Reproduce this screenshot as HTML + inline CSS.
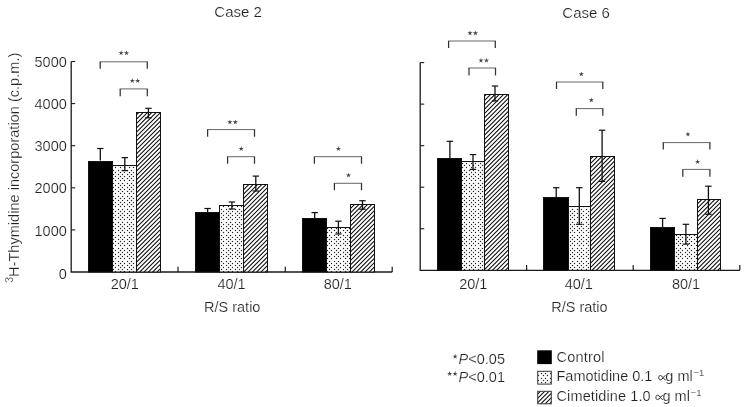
<!DOCTYPE html>
<html><head><meta charset="utf-8"><title>Chart</title>
<style>html,body{margin:0;padding:0;background:#fff;}svg{display:block;filter:grayscale(1);}text{font-family:"Liberation Sans",sans-serif;fill:#222222;stroke:#fff;stroke-width:0.2px;}</style>
</head><body>
<svg width="744" height="407" viewBox="0 0 744 407">
<defs>
<pattern id="dots" patternUnits="userSpaceOnUse" width="9" height="13"><rect width="9" height="13" fill="#fff"/><g shape-rendering="crispEdges"><rect x="1" y="0" width="1" height="1" fill="#e6e6e6"/><rect x="5" y="0" width="1" height="1" fill="#e6e6e6"/><rect x="0" y="1" width="1" height="1" fill="#e6e6e6"/><rect x="1" y="1" width="1" height="1" fill="#222222"/><rect x="2" y="1" width="1" height="1" fill="#e6e6e6"/><rect x="4" y="1" width="1" height="1" fill="#e6e6e6"/><rect x="5" y="1" width="1" height="1" fill="#222222"/><rect x="6" y="1" width="1" height="1" fill="#e6e6e6"/><rect x="1" y="2" width="1" height="1" fill="#e6e6e6"/><rect x="3" y="2" width="1" height="1" fill="#e6e6e6"/><rect x="5" y="2" width="1" height="1" fill="#e6e6e6"/><rect x="7" y="2" width="1" height="1" fill="#e6e6e6"/><rect x="2" y="3" width="1" height="1" fill="#e6e6e6"/><rect x="3" y="3" width="1" height="1" fill="#222222"/><rect x="4" y="3" width="1" height="1" fill="#e6e6e6"/><rect x="6" y="3" width="1" height="1" fill="#e6e6e6"/><rect x="7" y="3" width="1" height="1" fill="#222222"/><rect x="8" y="3" width="1" height="1" fill="#e6e6e6"/><rect x="1" y="4" width="1" height="1" fill="#e6e6e6"/><rect x="3" y="4" width="1" height="1" fill="#e6e6e6"/><rect x="5" y="4" width="1" height="1" fill="#e6e6e6"/><rect x="7" y="4" width="1" height="1" fill="#e6e6e6"/><rect x="0" y="5" width="1" height="1" fill="#e6e6e6"/><rect x="1" y="5" width="1" height="1" fill="#222222"/><rect x="2" y="5" width="1" height="1" fill="#e6e6e6"/><rect x="4" y="5" width="1" height="1" fill="#e6e6e6"/><rect x="5" y="5" width="1" height="1" fill="#222222"/><rect x="6" y="5" width="1" height="1" fill="#e6e6e6"/><rect x="1" y="6" width="1" height="1" fill="#e6e6e6"/><rect x="3" y="6" width="1" height="1" fill="#e6e6e6"/><rect x="5" y="6" width="1" height="1" fill="#e6e6e6"/><rect x="7" y="6" width="1" height="1" fill="#e6e6e6"/><rect x="2" y="7" width="1" height="1" fill="#e6e6e6"/><rect x="3" y="7" width="1" height="1" fill="#222222"/><rect x="4" y="7" width="1" height="1" fill="#e6e6e6"/><rect x="6" y="7" width="1" height="1" fill="#e6e6e6"/><rect x="7" y="7" width="1" height="1" fill="#222222"/><rect x="8" y="7" width="1" height="1" fill="#e6e6e6"/><rect x="1" y="8" width="1" height="1" fill="#e6e6e6"/><rect x="3" y="8" width="1" height="1" fill="#e6e6e6"/><rect x="5" y="8" width="1" height="1" fill="#e6e6e6"/><rect x="7" y="8" width="1" height="1" fill="#e6e6e6"/><rect x="0" y="9" width="1" height="1" fill="#e6e6e6"/><rect x="1" y="9" width="1" height="1" fill="#222222"/><rect x="2" y="9" width="1" height="1" fill="#e6e6e6"/><rect x="4" y="9" width="1" height="1" fill="#e6e6e6"/><rect x="5" y="9" width="1" height="1" fill="#222222"/><rect x="6" y="9" width="1" height="1" fill="#e6e6e6"/><rect x="1" y="10" width="1" height="1" fill="#e6e6e6"/><rect x="3" y="10" width="1" height="1" fill="#e6e6e6"/><rect x="5" y="10" width="1" height="1" fill="#e6e6e6"/><rect x="7" y="10" width="1" height="1" fill="#e6e6e6"/><rect x="2" y="11" width="1" height="1" fill="#e6e6e6"/><rect x="3" y="11" width="1" height="1" fill="#222222"/><rect x="4" y="11" width="1" height="1" fill="#e6e6e6"/><rect x="6" y="11" width="1" height="1" fill="#e6e6e6"/><rect x="7" y="11" width="1" height="1" fill="#222222"/><rect x="8" y="11" width="1" height="1" fill="#e6e6e6"/><rect x="3" y="12" width="1" height="1" fill="#e6e6e6"/><rect x="7" y="12" width="1" height="1" fill="#e6e6e6"/></g></pattern>
<pattern id="hatch" patternUnits="userSpaceOnUse" width="13" height="13"><rect width="13" height="13" fill="#fff"/><g shape-rendering="crispEdges"><rect x="0" y="0" width="1" height="1" fill="#bfbfbf"/><rect x="2" y="0" width="1" height="1" fill="#ebebeb"/><rect x="3" y="0" width="1" height="1" fill="#323232"/><rect x="4" y="0" width="1" height="1" fill="#6f6f6f"/><rect x="7" y="0" width="1" height="1" fill="#6f6f6f"/><rect x="8" y="0" width="1" height="1" fill="#323232"/><rect x="9" y="0" width="1" height="1" fill="#ebebeb"/><rect x="11" y="0" width="1" height="1" fill="#bfbfbf"/><rect x="12" y="0" width="1" height="1" fill="#1b1b1b"/><rect x="1" y="1" width="1" height="1" fill="#ebebeb"/><rect x="2" y="1" width="1" height="1" fill="#323232"/><rect x="3" y="1" width="1" height="1" fill="#6f6f6f"/><rect x="6" y="1" width="1" height="1" fill="#6f6f6f"/><rect x="7" y="1" width="1" height="1" fill="#323232"/><rect x="8" y="1" width="1" height="1" fill="#ebebeb"/><rect x="10" y="1" width="1" height="1" fill="#bfbfbf"/><rect x="11" y="1" width="1" height="1" fill="#1b1b1b"/><rect x="12" y="1" width="1" height="1" fill="#bfbfbf"/><rect x="0" y="2" width="1" height="1" fill="#ebebeb"/><rect x="1" y="2" width="1" height="1" fill="#323232"/><rect x="2" y="2" width="1" height="1" fill="#6f6f6f"/><rect x="5" y="2" width="1" height="1" fill="#6f6f6f"/><rect x="6" y="2" width="1" height="1" fill="#323232"/><rect x="7" y="2" width="1" height="1" fill="#ebebeb"/><rect x="9" y="2" width="1" height="1" fill="#bfbfbf"/><rect x="10" y="2" width="1" height="1" fill="#1b1b1b"/><rect x="11" y="2" width="1" height="1" fill="#bfbfbf"/><rect x="0" y="3" width="1" height="1" fill="#323232"/><rect x="1" y="3" width="1" height="1" fill="#6f6f6f"/><rect x="4" y="3" width="1" height="1" fill="#6f6f6f"/><rect x="5" y="3" width="1" height="1" fill="#323232"/><rect x="6" y="3" width="1" height="1" fill="#ebebeb"/><rect x="8" y="3" width="1" height="1" fill="#bfbfbf"/><rect x="9" y="3" width="1" height="1" fill="#1b1b1b"/><rect x="10" y="3" width="1" height="1" fill="#bfbfbf"/><rect x="12" y="3" width="1" height="1" fill="#ebebeb"/><rect x="0" y="4" width="1" height="1" fill="#6f6f6f"/><rect x="3" y="4" width="1" height="1" fill="#6f6f6f"/><rect x="4" y="4" width="1" height="1" fill="#323232"/><rect x="5" y="4" width="1" height="1" fill="#ebebeb"/><rect x="7" y="4" width="1" height="1" fill="#bfbfbf"/><rect x="8" y="4" width="1" height="1" fill="#1b1b1b"/><rect x="9" y="4" width="1" height="1" fill="#bfbfbf"/><rect x="11" y="4" width="1" height="1" fill="#ebebeb"/><rect x="12" y="4" width="1" height="1" fill="#323232"/><rect x="2" y="5" width="1" height="1" fill="#6f6f6f"/><rect x="3" y="5" width="1" height="1" fill="#323232"/><rect x="4" y="5" width="1" height="1" fill="#ebebeb"/><rect x="6" y="5" width="1" height="1" fill="#bfbfbf"/><rect x="7" y="5" width="1" height="1" fill="#1b1b1b"/><rect x="8" y="5" width="1" height="1" fill="#bfbfbf"/><rect x="10" y="5" width="1" height="1" fill="#ebebeb"/><rect x="11" y="5" width="1" height="1" fill="#323232"/><rect x="12" y="5" width="1" height="1" fill="#6f6f6f"/><rect x="1" y="6" width="1" height="1" fill="#6f6f6f"/><rect x="2" y="6" width="1" height="1" fill="#323232"/><rect x="3" y="6" width="1" height="1" fill="#ebebeb"/><rect x="5" y="6" width="1" height="1" fill="#bfbfbf"/><rect x="6" y="6" width="1" height="1" fill="#1b1b1b"/><rect x="7" y="6" width="1" height="1" fill="#bfbfbf"/><rect x="9" y="6" width="1" height="1" fill="#ebebeb"/><rect x="10" y="6" width="1" height="1" fill="#323232"/><rect x="11" y="6" width="1" height="1" fill="#6f6f6f"/><rect x="0" y="7" width="1" height="1" fill="#6f6f6f"/><rect x="1" y="7" width="1" height="1" fill="#323232"/><rect x="2" y="7" width="1" height="1" fill="#ebebeb"/><rect x="4" y="7" width="1" height="1" fill="#bfbfbf"/><rect x="5" y="7" width="1" height="1" fill="#1b1b1b"/><rect x="6" y="7" width="1" height="1" fill="#bfbfbf"/><rect x="8" y="7" width="1" height="1" fill="#ebebeb"/><rect x="9" y="7" width="1" height="1" fill="#323232"/><rect x="10" y="7" width="1" height="1" fill="#6f6f6f"/><rect x="0" y="8" width="1" height="1" fill="#323232"/><rect x="1" y="8" width="1" height="1" fill="#ebebeb"/><rect x="3" y="8" width="1" height="1" fill="#bfbfbf"/><rect x="4" y="8" width="1" height="1" fill="#1b1b1b"/><rect x="5" y="8" width="1" height="1" fill="#bfbfbf"/><rect x="7" y="8" width="1" height="1" fill="#ebebeb"/><rect x="8" y="8" width="1" height="1" fill="#323232"/><rect x="9" y="8" width="1" height="1" fill="#6f6f6f"/><rect x="12" y="8" width="1" height="1" fill="#6f6f6f"/><rect x="0" y="9" width="1" height="1" fill="#ebebeb"/><rect x="2" y="9" width="1" height="1" fill="#bfbfbf"/><rect x="3" y="9" width="1" height="1" fill="#1b1b1b"/><rect x="4" y="9" width="1" height="1" fill="#bfbfbf"/><rect x="6" y="9" width="1" height="1" fill="#ebebeb"/><rect x="7" y="9" width="1" height="1" fill="#323232"/><rect x="8" y="9" width="1" height="1" fill="#6f6f6f"/><rect x="11" y="9" width="1" height="1" fill="#6f6f6f"/><rect x="12" y="9" width="1" height="1" fill="#323232"/><rect x="1" y="10" width="1" height="1" fill="#bfbfbf"/><rect x="2" y="10" width="1" height="1" fill="#1b1b1b"/><rect x="3" y="10" width="1" height="1" fill="#bfbfbf"/><rect x="5" y="10" width="1" height="1" fill="#ebebeb"/><rect x="6" y="10" width="1" height="1" fill="#323232"/><rect x="7" y="10" width="1" height="1" fill="#6f6f6f"/><rect x="10" y="10" width="1" height="1" fill="#6f6f6f"/><rect x="11" y="10" width="1" height="1" fill="#323232"/><rect x="12" y="10" width="1" height="1" fill="#ebebeb"/><rect x="0" y="11" width="1" height="1" fill="#bfbfbf"/><rect x="1" y="11" width="1" height="1" fill="#1b1b1b"/><rect x="2" y="11" width="1" height="1" fill="#bfbfbf"/><rect x="4" y="11" width="1" height="1" fill="#ebebeb"/><rect x="5" y="11" width="1" height="1" fill="#323232"/><rect x="6" y="11" width="1" height="1" fill="#6f6f6f"/><rect x="9" y="11" width="1" height="1" fill="#6f6f6f"/><rect x="10" y="11" width="1" height="1" fill="#323232"/><rect x="11" y="11" width="1" height="1" fill="#ebebeb"/><rect x="0" y="12" width="1" height="1" fill="#1b1b1b"/><rect x="1" y="12" width="1" height="1" fill="#bfbfbf"/><rect x="3" y="12" width="1" height="1" fill="#ebebeb"/><rect x="4" y="12" width="1" height="1" fill="#323232"/><rect x="5" y="12" width="1" height="1" fill="#6f6f6f"/><rect x="8" y="12" width="1" height="1" fill="#6f6f6f"/><rect x="9" y="12" width="1" height="1" fill="#323232"/><rect x="10" y="12" width="1" height="1" fill="#ebebeb"/><rect x="12" y="12" width="1" height="1" fill="#bfbfbf"/></g></pattern>
</defs>
<rect width="744" height="407" fill="#fff"/>
<path d="M71.20 61.50V272.00H392.20" stroke="#1a1a1a" stroke-width="1.3" fill="none"/>
<path d="M71.20 229.90h4" stroke="#1a1a1a" stroke-width="1.1"/>
<path d="M71.20 187.80h4" stroke="#1a1a1a" stroke-width="1.1"/>
<path d="M71.20 145.70h4" stroke="#1a1a1a" stroke-width="1.1"/>
<path d="M71.20 103.60h4" stroke="#1a1a1a" stroke-width="1.1"/>
<path d="M71.20 61.50h4" stroke="#1a1a1a" stroke-width="1.1"/>
<path d="M178.00 272.00v-5.2" stroke="#1a1a1a" stroke-width="1.2"/>
<path d="M285.30 272.00v-5.2" stroke="#1a1a1a" stroke-width="1.2"/>
<path d="M392.20 272.00v-5.2" stroke="#1a1a1a" stroke-width="1.2"/>
<rect x="88.50" y="161.50" width="24.00" height="110.50" fill="#000" stroke="#111" stroke-width="1"/>
<rect x="112.50" y="165.50" width="24.00" height="106.50" fill="url(#dots)" stroke="#111" stroke-width="1"/>
<rect x="136.50" y="112.50" width="24.00" height="159.50" fill="url(#hatch)" stroke="#111" stroke-width="1"/>
<rect x="195.50" y="212.50" width="24.00" height="59.50" fill="#000" stroke="#111" stroke-width="1"/>
<rect x="219.50" y="205.50" width="24.00" height="66.50" fill="url(#dots)" stroke="#111" stroke-width="1"/>
<rect x="243.50" y="184.50" width="24.00" height="87.50" fill="url(#hatch)" stroke="#111" stroke-width="1"/>
<rect x="302.50" y="218.50" width="24.00" height="53.50" fill="#000" stroke="#111" stroke-width="1"/>
<rect x="326.50" y="227.50" width="24.00" height="44.50" fill="url(#dots)" stroke="#111" stroke-width="1"/>
<rect x="350.50" y="204.50" width="24.00" height="67.50" fill="url(#hatch)" stroke="#111" stroke-width="1"/>
<path d="M100.30 148.50V160.60" stroke="#111" stroke-width="1.3" fill="none"/>
<path d="M97.10 148.50H103.50" stroke="#111" stroke-width="1.2" fill="none"/>
<path d="M124.80 157.60V170.60" stroke="#111" stroke-width="1.3" fill="none"/>
<path d="M121.60 157.60H128.00" stroke="#111" stroke-width="1.2" fill="none"/>
<path d="M121.60 170.60H128.00" stroke="#111" stroke-width="1.2" fill="none"/>
<path d="M148.40 108.30V117.80" stroke="#111" stroke-width="1.3" fill="none"/>
<path d="M145.20 108.30H151.60" stroke="#111" stroke-width="1.2" fill="none"/>
<path d="M145.20 117.80H151.60" stroke="#111" stroke-width="1.2" fill="none"/>
<path d="M207.60 208.50V212.00" stroke="#111" stroke-width="1.3" fill="none"/>
<path d="M204.40 208.50H210.80" stroke="#111" stroke-width="1.2" fill="none"/>
<path d="M231.90 202.00V209.00" stroke="#111" stroke-width="1.3" fill="none"/>
<path d="M228.70 202.00H235.10" stroke="#111" stroke-width="1.2" fill="none"/>
<path d="M228.70 209.00H235.10" stroke="#111" stroke-width="1.2" fill="none"/>
<path d="M255.80 176.10V191.00" stroke="#111" stroke-width="1.3" fill="none"/>
<path d="M252.60 176.10H259.00" stroke="#111" stroke-width="1.2" fill="none"/>
<path d="M252.60 191.00H259.00" stroke="#111" stroke-width="1.2" fill="none"/>
<path d="M314.70 212.60V218.00" stroke="#111" stroke-width="1.3" fill="none"/>
<path d="M311.50 212.60H317.90" stroke="#111" stroke-width="1.2" fill="none"/>
<path d="M338.40 221.20V234.00" stroke="#111" stroke-width="1.3" fill="none"/>
<path d="M335.20 221.20H341.60" stroke="#111" stroke-width="1.2" fill="none"/>
<path d="M335.20 234.00H341.60" stroke="#111" stroke-width="1.2" fill="none"/>
<path d="M362.50 200.70V209.20" stroke="#111" stroke-width="1.3" fill="none"/>
<path d="M359.30 200.70H365.70" stroke="#111" stroke-width="1.2" fill="none"/>
<path d="M359.30 209.20H365.70" stroke="#111" stroke-width="1.2" fill="none"/>
<path d="M99.60 61.80H147.90" stroke="#555" stroke-width="0.9" fill="none"/>
<path d="M100.20 61.80V68.80M147.30 61.80V68.80" stroke="#333" stroke-width="1.25" fill="none"/>
<polygon transform="translate(121.10 52.80)" points="0.00,-2.60 0.59,-0.66 2.62,-0.70 0.95,0.46 1.62,2.37 0.00,1.15 -1.62,2.37 -0.95,0.46 -2.62,-0.70 -0.59,-0.66" fill="#444"/>
<polygon transform="translate(126.50 52.80)" points="0.00,-2.60 0.59,-0.66 2.62,-0.70 0.95,0.46 1.62,2.37 0.00,1.15 -1.62,2.37 -0.95,0.46 -2.62,-0.70 -0.59,-0.66" fill="#444"/>
<path d="M119.60 88.90H147.90" stroke="#555" stroke-width="0.9" fill="none"/>
<path d="M120.20 88.90V96.20M147.30 88.90V96.20" stroke="#333" stroke-width="1.25" fill="none"/>
<polygon transform="translate(132.30 80.60)" points="0.00,-2.60 0.59,-0.66 2.62,-0.70 0.95,0.46 1.62,2.37 0.00,1.15 -1.62,2.37 -0.95,0.46 -2.62,-0.70 -0.59,-0.66" fill="#444"/>
<polygon transform="translate(137.70 80.60)" points="0.00,-2.60 0.59,-0.66 2.62,-0.70 0.95,0.46 1.62,2.37 0.00,1.15 -1.62,2.37 -0.95,0.46 -2.62,-0.70 -0.59,-0.66" fill="#444"/>
<path d="M207.00 129.60H255.10" stroke="#555" stroke-width="0.9" fill="none"/>
<path d="M207.60 129.60V136.80M254.50 129.60V136.80" stroke="#333" stroke-width="1.25" fill="none"/>
<polygon transform="translate(229.90 122.00)" points="0.00,-2.60 0.59,-0.66 2.62,-0.70 0.95,0.46 1.62,2.37 0.00,1.15 -1.62,2.37 -0.95,0.46 -2.62,-0.70 -0.59,-0.66" fill="#444"/>
<polygon transform="translate(235.30 122.00)" points="0.00,-2.60 0.59,-0.66 2.62,-0.70 0.95,0.46 1.62,2.37 0.00,1.15 -1.62,2.37 -0.95,0.46 -2.62,-0.70 -0.59,-0.66" fill="#444"/>
<path d="M227.00 156.70H255.10" stroke="#555" stroke-width="0.9" fill="none"/>
<path d="M227.60 156.70V163.70M254.50 156.70V163.70" stroke="#333" stroke-width="1.25" fill="none"/>
<polygon transform="translate(241.20 148.60)" points="0.00,-2.60 0.59,-0.66 2.62,-0.70 0.95,0.46 1.62,2.37 0.00,1.15 -1.62,2.37 -0.95,0.46 -2.62,-0.70 -0.59,-0.66" fill="#444"/>
<path d="M313.80 156.70H362.10" stroke="#555" stroke-width="0.9" fill="none"/>
<path d="M314.40 156.70V163.70M361.50 156.70V163.70" stroke="#333" stroke-width="1.25" fill="none"/>
<polygon transform="translate(338.40 148.60)" points="0.00,-2.60 0.59,-0.66 2.62,-0.70 0.95,0.46 1.62,2.37 0.00,1.15 -1.62,2.37 -0.95,0.46 -2.62,-0.70 -0.59,-0.66" fill="#444"/>
<path d="M333.80 183.30H362.10" stroke="#555" stroke-width="0.9" fill="none"/>
<path d="M334.40 183.30V190.20M361.50 183.30V190.20" stroke="#333" stroke-width="1.25" fill="none"/>
<polygon transform="translate(348.50 175.20)" points="0.00,-2.60 0.59,-0.66 2.62,-0.70 0.95,0.46 1.62,2.37 0.00,1.15 -1.62,2.37 -0.95,0.46 -2.62,-0.70 -0.59,-0.66" fill="#444"/>
<path d="M420.20 62.60V270.30H739.80" stroke="#1a1a1a" stroke-width="1.3" fill="none"/>
<path d="M420.20 228.76h4" stroke="#1a1a1a" stroke-width="1.1"/>
<path d="M420.20 187.22h4" stroke="#1a1a1a" stroke-width="1.1"/>
<path d="M420.20 145.68h4" stroke="#1a1a1a" stroke-width="1.1"/>
<path d="M420.20 104.14h4" stroke="#1a1a1a" stroke-width="1.1"/>
<path d="M420.20 62.60h4" stroke="#1a1a1a" stroke-width="1.1"/>
<path d="M526.60 270.30v-5.2" stroke="#1a1a1a" stroke-width="1.2"/>
<path d="M633.20 270.30v-5.2" stroke="#1a1a1a" stroke-width="1.2"/>
<path d="M739.80 270.30v-5.2" stroke="#1a1a1a" stroke-width="1.2"/>
<rect x="437.50" y="158.50" width="24.00" height="111.80" fill="#000" stroke="#111" stroke-width="1"/>
<rect x="461.50" y="161.50" width="23.00" height="108.80" fill="url(#dots)" stroke="#111" stroke-width="1"/>
<rect x="484.50" y="94.50" width="24.00" height="175.80" fill="url(#hatch)" stroke="#111" stroke-width="1"/>
<rect x="543.50" y="197.50" width="25.00" height="72.80" fill="#000" stroke="#111" stroke-width="1"/>
<rect x="568.50" y="206.50" width="22.00" height="63.80" fill="url(#dots)" stroke="#111" stroke-width="1"/>
<rect x="590.50" y="156.50" width="24.00" height="113.80" fill="url(#hatch)" stroke="#111" stroke-width="1"/>
<rect x="650.50" y="227.50" width="24.00" height="42.80" fill="#000" stroke="#111" stroke-width="1"/>
<rect x="674.50" y="234.50" width="23.00" height="35.80" fill="url(#dots)" stroke="#111" stroke-width="1"/>
<rect x="697.50" y="199.50" width="23.00" height="70.80" fill="url(#hatch)" stroke="#111" stroke-width="1"/>
<path d="M449.90 141.30V158.10" stroke="#111" stroke-width="1.3" fill="none"/>
<path d="M446.70 141.30H453.10" stroke="#111" stroke-width="1.2" fill="none"/>
<path d="M473.00 154.60V169.40" stroke="#111" stroke-width="1.3" fill="none"/>
<path d="M469.80 154.60H476.20" stroke="#111" stroke-width="1.2" fill="none"/>
<path d="M469.80 169.40H476.20" stroke="#111" stroke-width="1.2" fill="none"/>
<path d="M495.00 86.00V101.00" stroke="#111" stroke-width="1.3" fill="none"/>
<path d="M491.80 86.00H498.20" stroke="#111" stroke-width="1.2" fill="none"/>
<path d="M491.80 101.00H498.20" stroke="#111" stroke-width="1.2" fill="none"/>
<path d="M556.20 187.70V197.00" stroke="#111" stroke-width="1.3" fill="none"/>
<path d="M553.00 187.70H559.40" stroke="#111" stroke-width="1.2" fill="none"/>
<path d="M579.30 187.70V224.30" stroke="#111" stroke-width="1.3" fill="none"/>
<path d="M576.10 187.70H582.50" stroke="#111" stroke-width="1.2" fill="none"/>
<path d="M576.10 224.30H582.50" stroke="#111" stroke-width="1.2" fill="none"/>
<path d="M602.10 130.20V181.40" stroke="#111" stroke-width="1.3" fill="none"/>
<path d="M598.90 130.20H605.30" stroke="#111" stroke-width="1.2" fill="none"/>
<path d="M598.90 181.40H605.30" stroke="#111" stroke-width="1.2" fill="none"/>
<path d="M662.60 218.40V227.30" stroke="#111" stroke-width="1.3" fill="none"/>
<path d="M659.40 218.40H665.80" stroke="#111" stroke-width="1.2" fill="none"/>
<path d="M685.90 224.30V244.10" stroke="#111" stroke-width="1.3" fill="none"/>
<path d="M682.70 224.30H689.10" stroke="#111" stroke-width="1.2" fill="none"/>
<path d="M682.70 244.10H689.10" stroke="#111" stroke-width="1.2" fill="none"/>
<path d="M708.40 186.20V214.30" stroke="#111" stroke-width="1.3" fill="none"/>
<path d="M705.20 186.20H711.60" stroke="#111" stroke-width="1.2" fill="none"/>
<path d="M705.20 214.30H711.60" stroke="#111" stroke-width="1.2" fill="none"/>
<path d="M448.00 41.00H495.90" stroke="#555" stroke-width="0.9" fill="none"/>
<path d="M448.60 41.00V48.10M495.30 41.00V48.10" stroke="#333" stroke-width="1.25" fill="none"/>
<polygon transform="translate(470.00 33.00)" points="0.00,-2.60 0.59,-0.66 2.62,-0.70 0.95,0.46 1.62,2.37 0.00,1.15 -1.62,2.37 -0.95,0.46 -2.62,-0.70 -0.59,-0.66" fill="#444"/>
<polygon transform="translate(475.40 33.00)" points="0.00,-2.60 0.59,-0.66 2.62,-0.70 0.95,0.46 1.62,2.37 0.00,1.15 -1.62,2.37 -0.95,0.46 -2.62,-0.70 -0.59,-0.66" fill="#444"/>
<path d="M468.40 68.00H496.10" stroke="#555" stroke-width="0.9" fill="none"/>
<path d="M469.00 68.00V75.50M495.50 68.00V75.50" stroke="#333" stroke-width="1.25" fill="none"/>
<polygon transform="translate(481.00 60.30)" points="0.00,-2.60 0.59,-0.66 2.62,-0.70 0.95,0.46 1.62,2.37 0.00,1.15 -1.62,2.37 -0.95,0.46 -2.62,-0.70 -0.59,-0.66" fill="#444"/>
<polygon transform="translate(486.40 60.30)" points="0.00,-2.60 0.59,-0.66 2.62,-0.70 0.95,0.46 1.62,2.37 0.00,1.15 -1.62,2.37 -0.95,0.46 -2.62,-0.70 -0.59,-0.66" fill="#444"/>
<path d="M555.90 82.00H603.40" stroke="#555" stroke-width="0.9" fill="none"/>
<path d="M556.50 82.00V89.10M602.80 82.00V89.10" stroke="#333" stroke-width="1.25" fill="none"/>
<polygon transform="translate(581.30 74.00)" points="0.00,-2.60 0.59,-0.66 2.62,-0.70 0.95,0.46 1.62,2.37 0.00,1.15 -1.62,2.37 -0.95,0.46 -2.62,-0.70 -0.59,-0.66" fill="#444"/>
<path d="M575.70 108.60H603.40" stroke="#555" stroke-width="0.9" fill="none"/>
<path d="M576.30 108.60V115.70M602.80 108.60V115.70" stroke="#333" stroke-width="1.25" fill="none"/>
<polygon transform="translate(591.30 100.00)" points="0.00,-2.60 0.59,-0.66 2.62,-0.70 0.95,0.46 1.62,2.37 0.00,1.15 -1.62,2.37 -0.95,0.46 -2.62,-0.70 -0.59,-0.66" fill="#444"/>
<path d="M662.70 142.60H710.50" stroke="#555" stroke-width="0.9" fill="none"/>
<path d="M663.30 142.60V149.60M709.90 142.60V149.60" stroke="#333" stroke-width="1.25" fill="none"/>
<polygon transform="translate(687.90 134.10)" points="0.00,-2.60 0.59,-0.66 2.62,-0.70 0.95,0.46 1.62,2.37 0.00,1.15 -1.62,2.37 -0.95,0.46 -2.62,-0.70 -0.59,-0.66" fill="#444"/>
<path d="M682.20 169.40H710.50" stroke="#555" stroke-width="0.9" fill="none"/>
<path d="M682.80 169.40V176.70M709.90 169.40V176.70" stroke="#333" stroke-width="1.25" fill="none"/>
<polygon transform="translate(697.60 161.60)" points="0.00,-2.60 0.59,-0.66 2.62,-0.70 0.95,0.46 1.62,2.37 0.00,1.15 -1.62,2.37 -0.95,0.46 -2.62,-0.70 -0.59,-0.66" fill="#444"/>
<text x="214.3" y="17" font-size="15">Case 2</text>
<text x="562.3" y="17.5" font-size="15">Case 6</text>
<text x="66.8" y="278.60" font-size="14.5" text-anchor="end">0</text>
<text x="66.8" y="235.50" font-size="14.5" text-anchor="end">1000</text>
<text x="66.8" y="193.40" font-size="14.5" text-anchor="end">2000</text>
<text x="66.8" y="151.30" font-size="14.5" text-anchor="end">3000</text>
<text x="66.8" y="109.20" font-size="14.5" text-anchor="end">4000</text>
<text x="66.8" y="67.10" font-size="14.5" text-anchor="end">5000</text>
<text x="124.75" y="288.5" font-size="14.5" text-anchor="middle">20/1</text>
<text x="231.50" y="288.5" font-size="14.5" text-anchor="middle">40/1</text>
<text x="337.80" y="288.5" font-size="14.5" text-anchor="middle">80/1</text>
<text x="232.25" y="312" font-size="14.5" text-anchor="middle">R/S ratio</text>
<text x="473.25" y="288.5" font-size="14.5" text-anchor="middle">20/1</text>
<text x="578.75" y="288.5" font-size="14.5" text-anchor="middle">40/1</text>
<text x="686.00" y="288.5" font-size="14.5" text-anchor="middle">80/1</text>
<text x="579.4" y="312" font-size="14.5" text-anchor="middle">R/S ratio</text>
<text transform="translate(19.4,282.8) rotate(-90)" font-size="14.5" letter-spacing="0.03"><tspan font-size="10.5" dy="-6.6">3</tspan><tspan dy="6.6">H-Thymidine incorporation (c.p.m.)</tspan></text>
<polygon transform="translate(455.10 356.40)" points="0.00,-2.60 0.59,-0.66 2.62,-0.70 0.95,0.46 1.62,2.37 0.00,1.15 -1.62,2.37 -0.95,0.46 -2.62,-0.70 -0.59,-0.66" fill="#444"/>
<text x="458.6" y="363.6" font-size="14.5"><tspan font-style="italic">P</tspan>&lt;0.05</text>
<polygon transform="translate(449.70 373.60)" points="0.00,-2.60 0.59,-0.66 2.62,-0.70 0.95,0.46 1.62,2.37 0.00,1.15 -1.62,2.37 -0.95,0.46 -2.62,-0.70 -0.59,-0.66" fill="#444"/>
<polygon transform="translate(455.10 373.60)" points="0.00,-2.60 0.59,-0.66 2.62,-0.70 0.95,0.46 1.62,2.37 0.00,1.15 -1.62,2.37 -0.95,0.46 -2.62,-0.70 -0.59,-0.66" fill="#444"/>
<text x="458.6" y="381.5" font-size="14.5"><tspan font-style="italic">P</tspan>&lt;0.01</text>
<rect x="537.2" y="350.3" width="14.6" height="13.8" fill="#000"/>
<rect x="537.7" y="371.3" width="13.6" height="12.8" fill="url(#dots)" stroke="#3a3a3a" stroke-width="1"/>
<rect x="537.7" y="391.3" width="13.6" height="12.5" fill="url(#hatch)" stroke="#3a3a3a" stroke-width="1"/>
<text x="556.5" y="362" font-size="14.5" textLength="48">Control</text>
<text x="556.5" y="381.40" font-size="14.5">Famotidine 0.1</text>
<path d="M665.60 375.55 C663.73 375.55 662.72 379.85 660.42 379.85 C659.12 379.85 658.75 378.95 658.75 377.70 C658.75 376.45 659.12 375.55 660.42 375.55 C662.72 375.55 663.73 379.85 665.60 379.85" fill="none" stroke="#222222" stroke-width="0.95"/>
<text x="665.30" y="381.40" font-size="14.5">g ml</text>
<text x="693.40" y="375.80" font-size="9.5">&#8722;</text>
<text x="699.00" y="375.80" font-size="9.5">1</text>
<text x="556.5" y="401.10" font-size="14.5" textLength="94.2">Cimetidine 1.0</text>
<path d="M662.80 395.25 C660.93 395.25 659.92 399.55 657.62 399.55 C656.32 399.55 655.95 398.65 655.95 397.40 C655.95 396.15 656.32 395.25 657.62 395.25 C659.92 395.25 660.93 399.55 662.80 399.55" fill="none" stroke="#222222" stroke-width="0.95"/>
<text x="662.50" y="401.10" font-size="14.5">g ml</text>
<text x="690.60" y="395.50" font-size="9.5">&#8722;</text>
<text x="696.20" y="395.50" font-size="9.5">1</text>
</svg></body></html>
